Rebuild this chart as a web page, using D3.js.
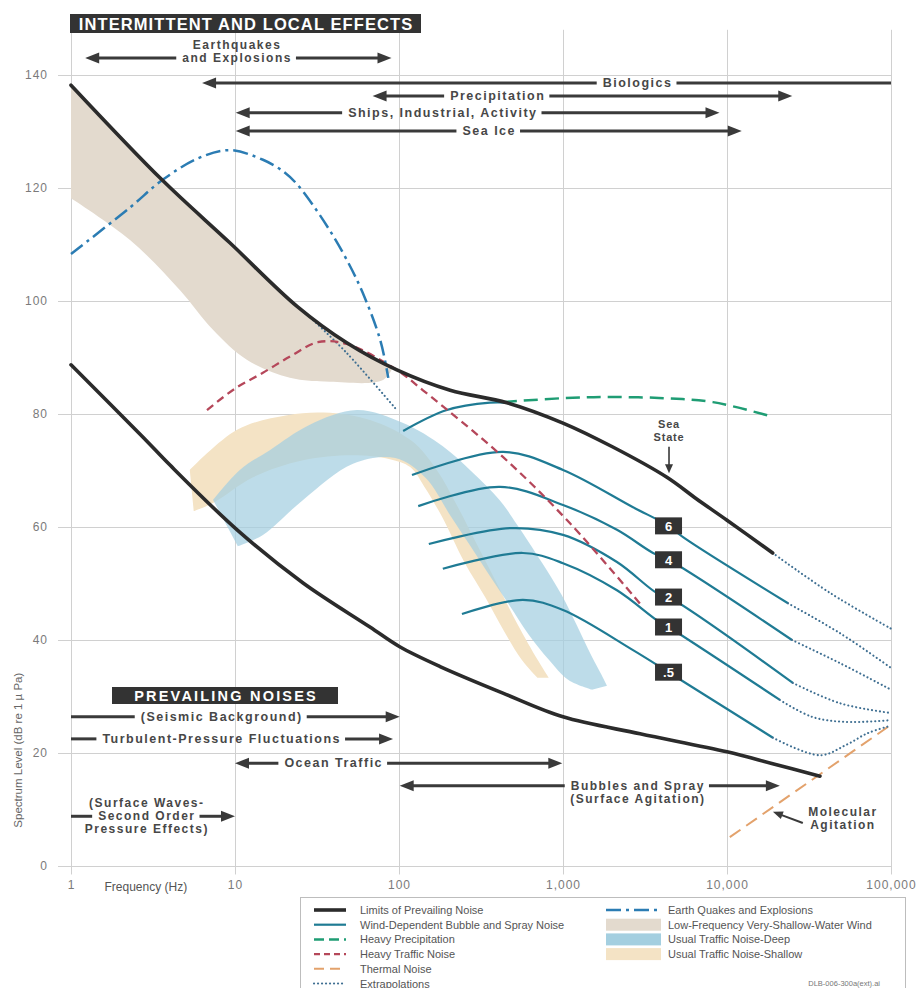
<!DOCTYPE html>
<html>
<head>
<meta charset="utf-8">
<script src="https://cdn.jsdelivr.net/npm/d3@7"></script>
<style>
  body { margin: 0; background: #fff; }
  svg { display: block; }
</style>
</head>
<body>
<svg id="chart" width="916" height="988"></svg>
<script>
// Ambient ocean noise spectra. Frequency in Hz, level in dB re 1 µPa.

const freqTicks = [1, 10, 100, 1000, 10000, 100000];
const freqTickLabels = ["1", "10", "100", "1,000", "10,000", "100,000"];
const levelTicks = [0, 20, 40, 60, 80, 100, 120, 140];

// Limits of prevailing noise
const prevailingUpper = [[1,138.2],[3.6,121.4],[9.3,110.3],[24,99.0],[48,92.6],[97,87.8],[205,84.2],[455,82.0],[1000,78.4],[2000,74.2],[4300,68.8],[6500,65.0],[10000,61.2],[19000,55.4]];
const prevailingLower = [[1,88.7],[2.75,75.9],[4,71.0],[10.3,59.5],[26,50.1],[66.5,42.3],[101,38.8],[178,35.3],[430,30.6],[1000,26.4],[2950,23.4],[10000,20.2],[19000,18.1],[36900,15.9]];
const upperExtrapHigh = [[19000,55.4],[42700,48.3],[100000,42.0]];
const upperExtrapLow = [[30,96.6],[48,90.8],[97,80.7]];

// Wind-dependent bubble and spray noise, by sea state
const windJoin = [[106,77.0],[196,80.7],[359,82.0],[455,82.0]];
const seaState6 = [[120,69.2],[431,73.3],[1000,70.1],[2673,63.5],[4400,60.2],[5395,58.2],[23550,46.5]];
const seaState4 = [[131,63.7],[413,67.1],[1000,63.9],[2133,59.5],[3540,55.4],[4400,54.2],[24900,40.0]];
const seaState2 = [[152,57.0],[475,59.8],[1000,58.6],[2133,53.8],[3740,48.3],[4400,47.6],[25200,32.4]];
const seaState1 = [[185,52.6],[570,55.4],[1000,53.6],[2133,48.8],[3740,43.5],[4400,42.3],[21000,29.4]];
const seaStateHalf = [[242,44.6],[570,47.1],[1000,45.3],[2673,38.2],[4400,34.3],[19050,22.7]];
const seaState6Extrap = [[23550,46.5],[48900,41.2],[98600,35.2]];
const seaState4Extrap = [[24900,40.0],[48900,35.9],[98600,31.3]];
const seaState2Extrap = [[25200,32.4],[48900,28.8],[98600,27.1]];
const seaState1Extrap = [[21000,29.4],[33000,26.4],[53000,25.5],[98600,25.8]];
const seaStateHalfExtrap = [[19050,22.7],[36900,19.6],[53000,21.4],[72000,23.5],[98600,24.8]];
const seaStateLabels = ["6", "4", "2", "1", ".5"];
const seaStateLabelFreq = 4400;

// Other sources
const heavyPrecipitation = [[430,82.1],[1000,82.8],[2000,83.0],[4100,82.8],[8200,82.1],[19000,79.5]];
const heavyTraffic = [[6.75,80.7],[10,84.5],[14.8,87.3],[22,90.3],[32,92.7],[48,92.4],[97,87.8],[140,84.2],[430,72.4],[1100,60.7],[3075,45.8]];
const earthquakes = [[1,108.3],[2.3,116.6],[3.6,121.4],[6,125.3],[9.3,126.7],[14.8,125.0],[20,122.8],[24,120.6],[30,116.9],[38,112.4],[48,107.3],[60,101.5],[77,93.0],[86,86.4]];
const thermal = [[10400,5.1],[100000,25.0]];

// Bands: upper edge and lower edge
const shallowWindTop = [[1,138.2],[3.6,121.4],[9.3,110.3],[24,99.0],[48,92.6],[92,88.3]];
const shallowWindBottom = [[1,118.2],[2.29,110.8],[4.62,101.9],[7.34,94.9],[11.8,89.6],[21.6,86.4],[37.9,85.7],[79.9,86.0],[92,88.3]];
const trafficShallowOuter = [[5.3,70.1],[10.3,77.2],[20.8,79.8],[38,80.2],[72,78.6],[120,75.2],[170,70.1],[225,63.9],[300,56.8],[400,49.7],[530,42.7],[700,36.5],[820,33.3]];
const trafficShallowInner = [[5.6,62.8],[7.5,64.4],[12.9,68.8],[26,71.8],[52,72.7],[88,72.0],[117,70.6],[143,67.1],[183,61.8],[250,53.8],[335,47.6],[440,41.4],[560,36.5],[700,33.3]];
const trafficDeepOuter = [[7.35,64.8],[10.7,70.1],[16.3,73.6],[28.6,78.1],[55.4,80.7],[106,78.4],[185,74.3],[280,69.7],[410,64.8],[525,60.4],[740,53.8],[980,48.0],[1210,42.7],[1490,37.2],[1720,33.8],[1855,31.9]];
const trafficDeepInner = [[10.4,56.6],[14.8,58.6],[26,64.8],[52.4,71.2],[95,72.2],[145,68.7],[205,62.1],[270,56.8],[355,51.5],[470,46.2],[620,40.9],[820,36.5],[1080,32.9],[1500,31.2]];

// Ranges of intermittent/local and prevailing effects (Hz), at a plotted level
const intermittentRanges = [
  { lines: ["Earthquakes", "and Explosions"], lo: 1.22, hi: 90, level: 143.0, at: 10.3, row: 1, heads: [1, 1] },
  { lines: ["Biologics"], lo: 6.3, hi: 100000, level: 138.6, at: 2850, row: 0, heads: [1, 0] },
  { lines: ["Precipitation"], lo: 69, hi: 25000, level: 136.3, at: 400, row: 0, heads: [1, 1] },
  { lines: ["Ships, Industrial, Activity"], lo: 10.1, hi: 9000, level: 133.3, at: 185, row: 0, heads: [1, 1] },
  { lines: ["Sea Ice"], lo: 10.1, hi: 12300, level: 130.1, at: 355, row: 0, heads: [1, 1] }
];
const prevailingRanges = [
  { lines: ["(Seismic Background)"], lo: 1, hi: 101, level: 26.4, at: 8.3, row: 0, heads: [0, 1] },
  { lines: ["Turbulent-Pressure Fluctuations"], lo: 1, hi: 92, level: 22.5, at: 8.3, row: 0, heads: [0, 1] },
  { lines: ["Ocean Traffic"], lo: 10, hi: 990, level: 18.2, at: 40, row: 0, heads: [1, 1] },
  { lines: ["Bubbles and Spray", "(Surface Agitation)"], lo: 101, hi: 21000, level: 14.2, at: 2860, row: 0, heads: [1, 1] },
  { lines: ["(Surface Waves-", "Second Order", "Pressure Effects)"], lo: 1, hi: 10, level: 8.8, at: 2.9, row: 1, heads: [0, 1] }
];

// ---------------------------------------------------------------
const svg = d3.select("#chart");
const x = d3.scaleLog().domain([1, 100000]).range([71, 891]);
const y = d3.scaleLinear().domain([0, 140]).range([866, 75]);
const sans = "'Liberation Sans', Arial, Helvetica, sans-serif";

const C = {
  black: "#2b2b2b", teal: "#1f7b94", green: "#1f9d74", red: "#b5475a",
  quake: "#2b7cb3", thermal: "#e3a26c", dots: "#3f6f92",
  wind: "#e3dace", deep: "#a4cfe0", shallow: "#f4e3c5", text: "#474747"
};

// Grid and axes
const gx = svg.append("g")
  .attr("transform", `translate(0,${y(-1.5)})`)
  .call(d3.axisBottom(x).tickValues(freqTicks)
    .tickFormat((d, i) => freqTickLabels[i])
    .tickSize(-(y(-1.5) - y(148))).tickPadding(6))
  .attr("font-family", sans).attr("font-size", 12);
gx.select(".domain").remove();
gx.selectAll(".tick line").attr("stroke", "#d0d0d0");
gx.selectAll(".tick text").attr("fill", "#7a7a7a").style("letter-spacing", "1px");

const gy = svg.append("g")
  .attr("transform", "translate(58,0)")
  .call(d3.axisLeft(y).tickValues(levelTicks).tickSize(-(x(100000) - 58)).tickPadding(10))
  .attr("font-family", sans).attr("font-size", 12);
gy.select(".domain").remove();
gy.selectAll(".tick line").attr("stroke", "#d0d0d0");
gy.selectAll(".tick text").attr("fill", "#7a7a7a").style("letter-spacing", "1px");

svg.append("text")
  .attr("transform", `translate(18,${y(20.5)}) rotate(-90)`)
  .attr("text-anchor", "middle").attr("dominant-baseline", "central")
  .attr("font-family", sans).attr("font-size", 11.5).attr("fill", "#666")
  .text("Spectrum Level (dB re 1 µ Pa)");
svg.append("text")
  .attr("x", x(1.6)).attr("y", y(-3.8))
  .attr("dominant-baseline", "central")
  .attr("font-family", sans).attr("font-size", 12).attr("fill", "#555")
  .text("Frequency (Hz)");

// Generators
const smooth = d3.curveCatmullRom.alpha(0.5);
const line = d3.line().x(d => x(d[0])).y(d => y(d[1])).curve(smooth);
const bandPath = (a, b) => line(a) + line(b.slice().reverse()).replace(/^M/, "L") + "Z";

// Bands
const bands = svg.append("g");
bands.append("path").attr("d", bandPath(shallowWindTop, shallowWindBottom)).attr("fill", C.wind);
bands.append("path").attr("d", bandPath(trafficShallowOuter, trafficShallowInner)).attr("fill", C.shallow);
bands.append("path").attr("d", bandPath(trafficDeepOuter, trafficDeepInner)).attr("fill", C.deep).attr("fill-opacity", 0.72);

// Curves
const curves = svg.append("g").attr("fill", "none");
curves.append("path").attr("d", line(thermal)).attr("stroke", C.thermal).attr("stroke-width", 2).attr("stroke-dasharray", "13,7");

const seaStates = [
  { solid: seaState6, extrap: seaState6Extrap },
  { solid: seaState4, extrap: seaState4Extrap },
  { solid: seaState2, extrap: seaState2Extrap },
  { solid: seaState1, extrap: seaState1Extrap },
  { solid: seaStateHalf, extrap: seaStateHalfExtrap }
];
curves.append("path").attr("d", line(windJoin)).attr("stroke", C.teal).attr("stroke-width", 2.2);
seaStates.forEach(s => {
  curves.append("path").attr("d", line(s.solid)).attr("stroke", C.teal).attr("stroke-width", 2.2);
});

const dotted = sel => sel.attr("stroke", C.dots).attr("stroke-width", 2.1)
  .attr("stroke-dasharray", "0.1,3.9").attr("stroke-linecap", "round");
seaStates.forEach(s => curves.append("path").attr("d", line(s.extrap)).call(dotted));
curves.append("path").attr("d", line(upperExtrapHigh)).call(dotted);
curves.append("path").attr("d", line(upperExtrapLow)).call(dotted);

curves.append("path").attr("d", line(heavyTraffic)).attr("stroke", C.red).attr("stroke-width", 2.3).attr("stroke-dasharray", "8,5");
curves.append("path").attr("d", line(heavyPrecipitation)).attr("stroke", C.green).attr("stroke-width", 2.5).attr("stroke-dasharray", "14,7");
curves.append("path").attr("d", line(earthquakes)).attr("stroke", C.quake).attr("stroke-width", 2.5).attr("stroke-dasharray", "15,5,3,5");

curves.append("path").attr("d", line(prevailingUpper)).attr("stroke", C.black).attr("stroke-width", 3.6).attr("stroke-linecap", "round");
curves.append("path").attr("d", line(prevailingLower)).attr("stroke", C.black).attr("stroke-width", 3.6).attr("stroke-linecap", "round");

// Sea state labels on each curve
const labels = svg.append("g");
seaStates.forEach((s, i) => {
  const p = s.solid.find(d => d[0] === seaStateLabelFreq);
  const cx = x(p[0]), cy = y(p[1]);
  labels.append("rect").attr("x", cx - 13.5).attr("y", cy - 8.5).attr("width", 27).attr("height", 17).attr("fill", "#333");
  labels.append("text").attr("x", cx).attr("y", cy + 0.5)
    .attr("text-anchor", "middle").attr("dominant-baseline", "central")
    .attr("font-family", sans).attr("font-weight", "bold").attr("font-size", 13).attr("fill", "#fff")
    .text(seaStateLabels[i]);
});

// Annotations
const ann = svg.append("g")
  .attr("font-family", sans).attr("font-weight", "bold").attr("font-size", 12.5)
  .attr("fill", C.text).style("letter-spacing", "1.5px");
const arrowColor = "#3a3a3a";
const lineStep = 13;

function head(g, xt, yt, dx, dy, L = 14, W = 5.5) {
  // triangle with tip at (xt,yt) pointing along (dx,dy)
  const n = Math.hypot(dx, dy), ux = dx / n, uy = dy / n;
  const bx = xt - ux * L, by = yt - uy * L;
  g.append("path")
    .attr("d", `M${xt},${yt}L${bx - uy * W},${by + ux * W}L${bx + uy * W},${by - ux * W}Z`)
    .attr("fill", arrowColor);
}
function seg(g, x1, y1, x2, y2, w = 3) {
  g.append("line").attr("x1", x1).attr("y1", y1).attr("x2", x2).attr("y2", y2)
    .attr("stroke", arrowColor).attr("stroke-width", w);
}

function rangeArrow(d) {
  const ya = y(d.level), xc = x(d.at);
  const multi = d.lines.length > 1;
  const ts = d.lines.map((t, i) => ann.append("text")
    .attr("x", xc).attr("y", ya + (i - d.row) * lineStep)
    .attr("font-size", multi ? 12 : null)
    .attr("text-anchor", "middle").attr("dominant-baseline", "central").text(t));
  const w = ts[d.row].node().getBBox().width;
  const gapL = xc - w / 2 - 6, gapR = xc + w / 2 + 4;
  const x1 = x(d.lo), x2 = x(d.hi);
  const s1 = d.heads[0] ? x1 + 10 : x1, s2 = d.heads[1] ? x2 - 10 : x2;
  if (gapL > s1) seg(ann, s1, ya, gapL, ya);
  if (gapR < s2) seg(ann, gapR, ya, s2, ya);
  if (d.heads[0]) head(ann, x1, ya, -1, 0);
  if (d.heads[1]) head(ann, x2, ya, 1, 0);
}
intermittentRanges.forEach(rangeArrow);
prevailingRanges.forEach(rangeArrow);

// Sea state pointer
const ssF = 4430;
["Sea", "State"].forEach((t, i) => ann.append("text")
  .attr("x", x(ssF)).attr("y", y(78.2) + i * 12.5).attr("text-anchor", "middle")
  .attr("dominant-baseline", "central").attr("font-size", 11).style("letter-spacing", "0.8px").text(t));
seg(ann, x(ssF), y(74.2), x(ssF), y(70.9), 1.6);
head(ann, x(ssF), y(69.5), 0, 1, 9, 4);

// Molecular agitation pointer
["Molecular", "Agitation"].forEach((t, i) => ann.append("text")
  .attr("x", x(50900)).attr("y", y(9.5) + i * lineStep).attr("text-anchor", "middle")
  .attr("font-size", 12).attr("dominant-baseline", "central").text(t));
{
  const xa = x(29000), ya = y(7.6), xb = x(19050), yb = y(9.6);
  const dx = xb - xa, dy = yb - ya, n = Math.hypot(dx, dy);
  seg(ann, xa, ya, xb - dx / n * 8, yb - dy / n * 8, 2);
  head(ann, xb, yb, dx, dy, 10, 4);
}

// Section headers
function header(text, cx, cy, w, h, size, spacing) {
  const g = svg.append("g");
  g.append("rect").attr("x", cx - w / 2).attr("y", cy - h / 2).attr("width", w).attr("height", h).attr("fill", "#333");
  g.append("text").attr("x", cx + spacing / 2).attr("y", cy + 0.5)
    .attr("text-anchor", "middle").attr("dominant-baseline", "central")
    .attr("font-family", sans).attr("font-weight", "bold").attr("font-size", size)
    .attr("fill", "#fff").style("letter-spacing", spacing + "px").text(text);
}
header("INTERMITTENT AND LOCAL EFFECTS", 245.5, 23.5, 351, 19, 16.5, 1.1);
header("PREVAILING NOISES", 225, 695.5, 226, 17, 14.5, 2.2);

// Legend
const lg = svg.append("g").attr("font-family", sans).attr("font-size", 11).attr("fill", "#555");
lg.append("rect").attr("x", 300.5).attr("y", 897.5).attr("width", 605).attr("height", 100)
  .attr("fill", "#fff").attr("stroke", "#bdbdbd");
const rowY = i => 910 + i * 14.7;
const leftItems = [
  { label: "Limits of Prevailing Noise", stroke: C.black, w: 3.6, dash: null },
  { label: "Wind-Dependent Bubble and Spray Noise", stroke: C.teal, w: 2.2, dash: null },
  { label: "Heavy Precipitation", stroke: C.green, w: 2.5, dash: "10,5" },
  { label: "Heavy Traffic Noise", stroke: C.red, w: 2.3, dash: "6,4" },
  { label: "Thermal Noise", stroke: C.thermal, w: 2, dash: "10,6" },
  { label: "Extrapolations", stroke: C.dots, w: 2.1, dash: "0.1,3.9", cap: "round" }
];
leftItems.forEach((d, i) => {
  lg.append("line").attr("x1", 314).attr("x2", 346).attr("y1", rowY(i)).attr("y2", rowY(i))
    .attr("stroke", d.stroke).attr("stroke-width", d.w)
    .attr("stroke-dasharray", d.dash).attr("stroke-linecap", d.cap || "butt");
  lg.append("text").attr("x", 360).attr("y", rowY(i)).attr("dominant-baseline", "central").text(d.label);
});
lg.append("line").attr("x1", 606).attr("x2", 660).attr("y1", rowY(0)).attr("y2", rowY(0))
  .attr("stroke", C.quake).attr("stroke-width", 2.5).attr("stroke-dasharray", "15,5,3,5");
lg.append("text").attr("x", 668).attr("y", rowY(0)).attr("dominant-baseline", "central").text("Earth Quakes and Explosions");
const rightSwatches = [
  { label: "Low-Frequency Very-Shallow-Water Wind", fill: C.wind },
  { label: "Usual Traffic Noise-Deep", fill: C.deep },
  { label: "Usual Traffic Noise-Shallow", fill: C.shallow }
];
rightSwatches.forEach((d, i) => {
  lg.append("rect").attr("x", 606).attr("y", rowY(i + 1) - 6).attr("width", 55).attr("height", 12).attr("fill", d.fill);
  lg.append("text").attr("x", 668).attr("y", rowY(i + 1)).attr("dominant-baseline", "central").text(d.label);
});
lg.append("text").attr("x", 880).attr("y", rowY(5)).attr("text-anchor", "end")
  .attr("dominant-baseline", "central").attr("font-size", 7.5).attr("fill", "#777")
  .text("DLB-006-300a(ext).ai");
</script>
</body>
</html>
